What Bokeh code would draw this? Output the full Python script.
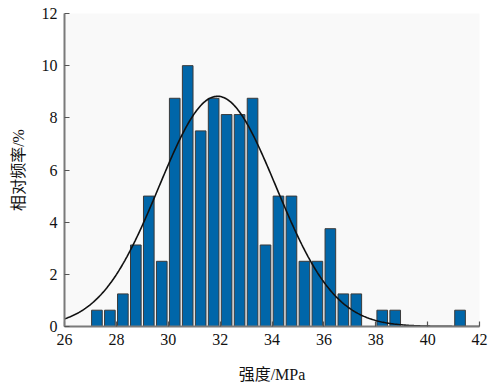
import numpy as np
from bokeh.plotting import figure
from bokeh.models import ColumnDataSource, FixedTicker, Range1d
from bokeh.embed import file_html
from bokeh.resources import INLINE

# Bin centres (MPa) and relative frequency (%)
bin_centers = [27.25, 27.75, 28.25, 28.75, 29.25, 29.75, 30.25, 30.75, 31.25, 31.75,
               32.25, 32.75, 33.25, 33.75, 34.25, 34.75, 35.25, 35.75, 36.25, 36.75,
               37.25, 38.25, 38.75, 41.25]
rel_freq = [0.625, 0.625, 1.25, 3.125, 5.0, 2.5, 8.75, 10.0, 7.5, 8.75,
            8.125, 8.125, 8.75, 3.125, 5.0, 5.0, 2.5, 2.5, 3.75, 1.25,
            1.25, 0.625, 0.625, 0.625]

# Fitted normal distribution parameters
fit_mean = 31.9
fit_std = 2.26
bin_width = 0.5

x_ticks = [26, 28, 30, 32, 34, 36, 38, 40, 42]
y_ticks = [0, 2, 4, 6, 8, 10, 12]

serif = "'Liberation Serif', 'Times New Roman', 'Noto Sans CJK SC', serif"

p = figure(width=492, height=387, output_backend="svg", toolbar_location=None,
           x_range=Range1d(26, 42), y_range=Range1d(0, 12))
p.min_border_left = 64
p.min_border_right = 13
p.min_border_top = 13
p.min_border_bottom = 61
p.outline_line_color = None
p.background_fill_color = "#f9f9f9"
p.border_fill_color = "white"
p.grid.visible = False

src = ColumnDataSource(dict(x=bin_centers, top=rel_freq))
p.vbar(x="x", top="top", bottom=0, width=0.41, source=src,
       fill_color="#0066a9", line_color="#3a3a3a", line_width=1)

xs = np.linspace(26, 42, 400)
ys = 100 * bin_width / (fit_std * np.sqrt(2 * np.pi)) * np.exp(-(xs - fit_mean) ** 2 / (2 * fit_std ** 2))
p.line(xs, ys, line_color="#111111", line_width=1.6)

for ax in (p.xaxis[0], p.yaxis[0]):
    ax.axis_line_color = "#7a7a7a"
    ax.axis_line_width = 2
    ax.major_tick_in = 5
    ax.major_tick_out = 0
    ax.major_tick_line_color = "#555555"
    ax.major_tick_line_width = 1.2
    ax.minor_tick_line_color = None
    ax.major_label_text_font = serif
    ax.major_label_text_font_size = "16px"
    ax.major_label_text_color = "#111111"
    ax.axis_label_text_font = serif
    ax.axis_label_text_font_style = "normal"
    ax.axis_label_text_font_size = "16px"
    ax.axis_label_text_color = "#111111"

p.xaxis.ticker = FixedTicker(ticks=x_ticks)
p.yaxis.ticker = FixedTicker(ticks=y_ticks)
p.xaxis.axis_label = "强度/MPa"
p.yaxis.axis_label = "相对频率/%"
p.xaxis.major_label_standoff = 7
p.yaxis.major_label_standoff = 7
p.xaxis.axis_label_standoff = 18
p.yaxis.axis_label_standoff = 12

open("out.html", "w").write(file_html(p, INLINE))
